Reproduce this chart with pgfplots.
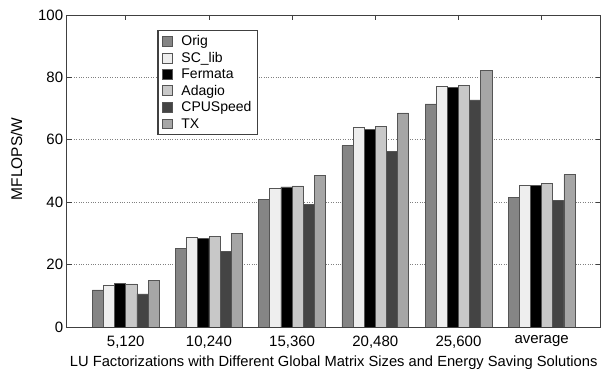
\documentclass[border=0pt]{standalone}
\usepackage{pgfplots}
\pgfplotsset{compat=1.18}
\usepackage{fontspec}
\setmainfont{Liberation Sans}
\definecolor{cOrig}{HTML}{858585}
\definecolor{cSC}{HTML}{EEEEEE}
\definecolor{cFer}{HTML}{000000}
\definecolor{cAda}{HTML}{C8C8C8}
\definecolor{cCPU}{HTML}{444444}
\definecolor{cTX}{HTML}{A6A6A6}
\definecolor{cEdge}{HTML}{555555}
\begin{document}
\begin{tikzpicture}
\begin{axis}[
  scale only axis,
  width=534pt, height=312pt,
  ybar=0pt, bar width=0.134,
  xmin=-0.71, xmax=5.71,
  ymin=0, ymax=100,
  xtick={0,1,2,3,4,5},
  xticklabels={{5,120},{10,240},{15,360},{20,480},{25,600},average},
  xtick pos=upper,
  xticklabel pos=lower,
  ytick={0,20,40,60,80,100},
  tick align=inside,
  major tick length=5pt,
  ymajorgrids,
  grid style={dotted, gray, line width=0.8pt},
  axis line style={black!75, line width=0.8pt},
  tick style={black!75, line width=0.8pt},
  ticklabel style={font=\fontsize{15}{17}\selectfont},
  xticklabel style={yshift=-5pt},
  /pgf/number format/assume math mode=true,
  xlabel={LU Factorizations with Different Global Matrix Sizes and Energy Saving Solutions},
  ylabel={MFLOPS/W},
  xlabel style={font=\fontsize{14.7}{16}\selectfont, yshift=-1pt},
  ylabel style={font=\fontsize{15.5}{17}\selectfont, yshift=9pt, xshift=12pt},
  every axis plot/.append style={draw=cEdge, line width=0.7pt},
  area legend,
  legend style={at={(0.170,0.952)}, anchor=north west, fill=white,
    draw=black!75, line width=1.5pt,
    font=\fontsize{14}{15}\selectfont, row sep=1pt,
    inner xsep=4pt, inner ysep=3pt},
  legend cell align=left,
  legend image code/.code={\draw[#1, draw=cEdge, line width=0.7pt] (0.0cm,-0.17cm) rectangle (0.36cm,0.18cm); \path (0.58cm,0);},
]
\addplot[fill=cOrig] coordinates {(0,11.9) (1,25.2) (2,41.0) (3,58.1) (4,71.5) (5,41.5)};
\addplot[fill=cSC] coordinates {(0,13.5) (1,28.7) (2,44.4) (3,64.0) (4,77.0) (5,45.5)};
\addplot[fill=cFer] coordinates {(0,13.9) (1,28.5) (2,44.9) (3,63.3) (4,76.8) (5,45.5)};
\addplot[fill=cAda] coordinates {(0,13.8) (1,28.9) (2,45.2) (3,64.3) (4,77.3) (5,45.9)};
\addplot[fill=cCPU] coordinates {(0,10.6) (1,24.1) (2,39.2) (3,56.4) (4,72.8) (5,40.7)};
\addplot[fill=cTX] coordinates {(0,14.8) (1,30.0) (2,48.5) (3,68.6) (4,82.1) (5,48.8)};
\legend{Orig,SC\_lib,Fermata,Adagio,CPUSpeed,TX}
\end{axis}
\pgfresetboundingbox
\path (current axis.south west) ++(-66.7pt,-52pt) rectangle ++(615pt,379pt);
\end{tikzpicture}
\end{document}
